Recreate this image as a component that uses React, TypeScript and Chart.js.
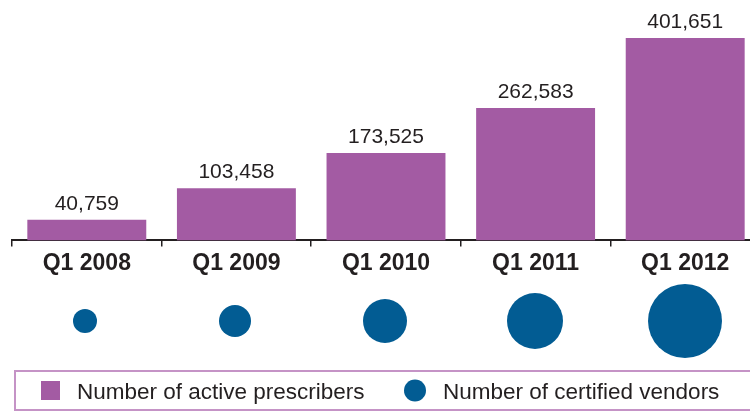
import React, { useEffect, useRef } from 'react';
import { Chart, registerables } from 'chart.js';

Chart.register(...registerables);

const categories = ['Q1 2008', 'Q1 2009', 'Q1 2010', 'Q1 2011', 'Q1 2012'];
const prescribers = [40759, 103458, 173525, 262583, 401651];
// relative size of the vendor bubbles (estimated from the circles' areas)
const vendors = [36, 64, 121, 196, 342];
const seriesNames = ['Number of active prescribers', 'Number of certified vendors'];

const PURPLE = '#A35BA3';
const BLUE = '#025C93';
const INK = '#231F20';
const FRAME = '#C593C6';
const FONT = '"Liberation Sans", Arial, Helvetica, sans-serif';

const valueLabels = {
  id: 'valueLabels',
  afterDatasetsDraw(chart: any) {
    const ctx = chart.ctx;
    const meta = chart.getDatasetMeta(0);
    ctx.save();
    ctx.font = `21px ${FONT}`;
    ctx.fillStyle = INK;
    ctx.textAlign = 'center';
    ctx.textBaseline = 'alphabetic';
    meta.data.forEach((bar: any, i: number) => {
      ctx.fillText(prescribers[i].toLocaleString('en-US'), bar.x, bar.y - 10);
    });
    ctx.restore();
  },
};

// boxed legend under the bubbles
const boxedLegend = {
  id: 'boxedLegend',
  afterDraw(chart: any) {
    const ctx = chart.ctx;
    const top = chart.chartArea.bottom + 8;
    const h = 41;
    const mid = top + h / 2;
    ctx.save();
    ctx.strokeStyle = FRAME;
    ctx.lineWidth = 2;
    ctx.strokeRect(15, top + 1, chart.width, h - 2);

    ctx.fillStyle = PURPLE;
    ctx.fillRect(41, mid - 9.5, 19, 19);

    ctx.fillStyle = BLUE;
    ctx.beginPath();
    ctx.arc(415, mid, 11, 0, Math.PI * 2);
    ctx.fill();

    ctx.fillStyle = INK;
    ctx.font = `22.5px ${FONT}`;
    ctx.textAlign = 'left';
    ctx.textBaseline = 'alphabetic';
    ctx.fillText(seriesNames[0], 77, mid + 8.5);
    ctx.fillText(seriesNames[1], 443, mid + 8.5);
    ctx.restore();
  },
};

export default function App() {
  const barRef = useRef<HTMLCanvasElement | null>(null);
  const bubbleRef = useRef<HTMLCanvasElement | null>(null);

  useEffect(() => {
    const barChart = new Chart(barRef.current as HTMLCanvasElement, {
      type: 'bar',
      data: {
        labels: categories,
        datasets: [
          {
            label: seriesNames[0],
            data: prescribers,
            backgroundColor: PURPLE,
            categoryPercentage: 1,
            barPercentage: 0.795,
          },
        ],
      },
      options: {
        animation: false,
        responsive: false,
        layout: { padding: { left: 12, right: 10, top: 0, bottom: 0 } },
        plugins: { legend: { display: false }, tooltip: { enabled: false } },
        scales: {
          x: {
            grid: {
              display: true,
              drawOnChartArea: false,
              drawTicks: true,
              tickLength: 6,
              color: INK,
              lineWidth: 1.5,
              offset: true,
            },
            border: { display: true, color: INK, width: 2 },
            ticks: {
              color: INK,
              padding: 3,
              font: { family: FONT, size: 23, weight: 'bold' },
            },
          },
          y: {
            display: false,
            min: 0,
            max: 477000,
          },
        },
      },
      plugins: [valueLabels],
    });

    const bubbleChart = new Chart(bubbleRef.current as HTMLCanvasElement, {
      type: 'bubble',
      data: {
        datasets: [
          {
            label: seriesNames[1],
            data: vendors.map((v, i) => ({ x: i, y: 0.5, r: 2 * Math.sqrt(v) })),
            backgroundColor: BLUE,
            borderWidth: 0,
            clip: false,
          },
        ],
      },
      options: {
        animation: false,
        responsive: false,
        layout: { autoPadding: false, padding: { left: 10, right: 10, top: 0, bottom: 50 } },
        plugins: {
          tooltip: { enabled: false },
          legend: { display: false },
        },
        scales: {
          x: { type: 'linear', display: false, min: -0.5, max: 4.5 },
          y: { display: false, min: 0, max: 1 },
        },
      },
      plugins: [boxedLegend],
    });

    return () => {
      barChart.destroy();
      bubbleChart.destroy();
    };
  }, []);

  return (
    <div style={{ position: 'absolute', left: 0, top: 0, width: 750, height: 412, overflow: 'hidden', background: '#fff' }}>
      <canvas ref={barRef} width={770} height={280} style={{ display: 'block', position: 'absolute', left: 0, top: 0 }} />
      <canvas ref={bubbleRef} width={770} height={132} style={{ display: 'block', position: 'absolute', left: 0, top: 280 }} />
    </div>
  );
}
